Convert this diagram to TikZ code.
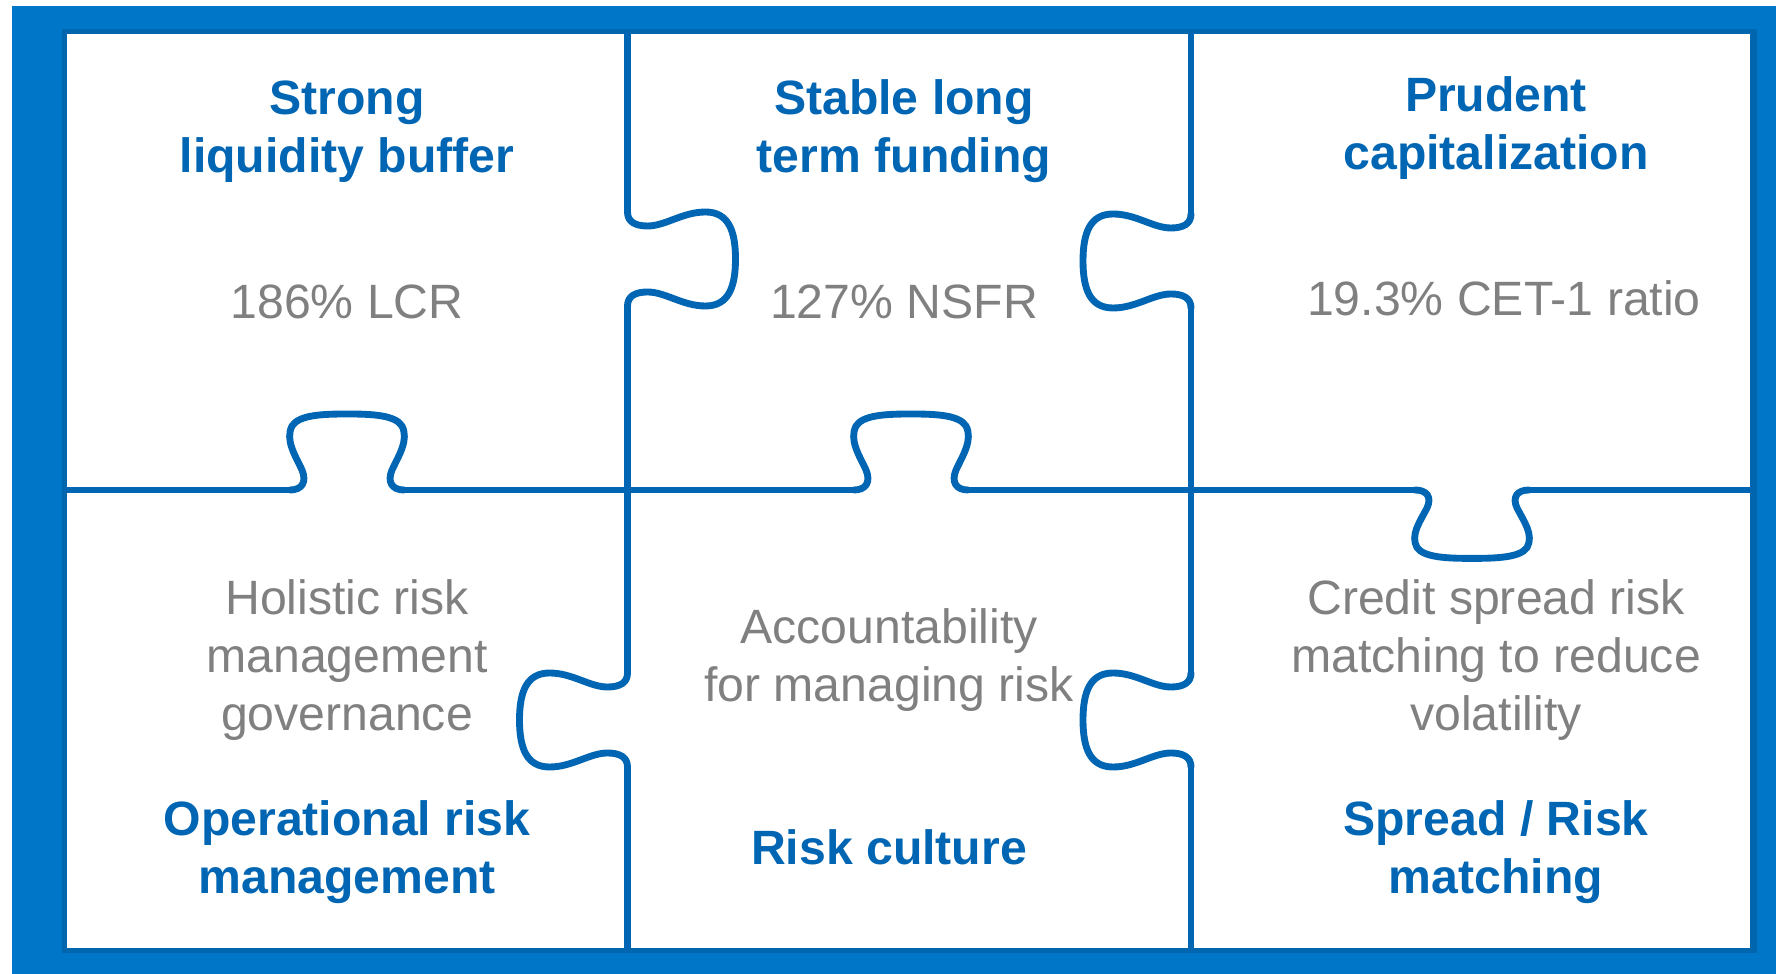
\documentclass[tikz,border=0pt]{standalone}
\usepackage{fontspec}
\setmainfont{Liberation Sans}
\definecolor{bandblue}{RGB}{0,118,200}
\definecolor{shadeblue}{RGB}{0,103,174}
\definecolor{lineblue}{RGB}{0,102,179}
\definecolor{notegrey}{RGB}{128,128,128}
\tikzset{
  puzzleline/.style={lineblue,line width=1.95pt,line cap=round,line join=round},
  headtext/.style={lineblue,font=\fontsize{13.7}{16.5}\selectfont\bfseries,align=center,anchor=base,inner sep=0pt},
  notetext/.style={notegrey,font=\fontsize{13.7}{16.5}\selectfont,align=center,anchor=base,inner sep=0pt},
  sideknob/.pic={\draw[puzzleline] (0,-47) .. controls (0,-37) and (8,-33) .. (20,-33) .. controls (38,-33) and (55,-47) .. (78,-47) .. controls (101,-47) and (108,-28) .. (108,0) .. controls (108,28) and (101,47) .. (78,47) .. controls (55,47) and (38,33) .. (20,33) .. controls (8,33) and (0,37) .. (0,47);},
  upknob/.pic={\draw[puzzleline] (-57,0) .. controls (-45,0) and (-40,-8) .. (-45,-20) .. controls (-52,-35) and (-62,-50) .. (-55,-64) .. controls (-48,-75) and (-25,-76) .. (0,-76) .. controls (25,-76) and (48,-75) .. (55,-64) .. controls (62,-50) and (52,-35) .. (45,-20) .. controls (40,-8) and (45,0) .. (57,0);}
}
\begin{document}
\begin{tikzpicture}[x=0.01cm,y=-0.01cm]
\useasboundingbox (0,0) rectangle (1776,974);
\fill[bandblue] (12,6) rectangle (1776,974);
\fill[shadeblue] (62,29) rectangle (1757,953);
\fill[white] (67,34) rectangle (1750,948);

\draw[puzzleline] (627.5,34) -- (627.5,212) (627.5,306) -- (627.5,673) (627.5,767) -- (627.5,948);
\draw[puzzleline] (1191,34) -- (1191,214) (1191,308) -- (1191,673) (1191,767) -- (1191,948);
\draw[puzzleline] (67,490) -- (290,490) (404,490) -- (854,490) (968,490) -- (1415,490) (1529,490) -- (1750,490);
\pic at (627.5,259) {sideknob};
\pic[xscale=-1] at (1191,261) {sideknob};
\pic[xscale=-1] at (627.5,720) {sideknob};
\pic[xscale=-1] at (1191,720) {sideknob};
\pic at (347,490) {upknob};
\pic at (911,490) {upknob};
\pic[yscale=-0.9] at (1472,490) {upknob};

\node[headtext] (buffer) at (347,173) {Strong\\liquidity buffer};
\node[headtext] (funding) at (904,173) {Stable long\\term funding};
\node[headtext] (capital) at (1496,170) {Prudent\\capitalization};
\node[notetext] (lcr) at (347,319) {186\% LCR};
\node[notetext] (nsfr) at (904,319) {127\% NSFR};
\node[notetext] (cet) at (1504,316) {19.3\% CET-1 ratio};

\node[notetext] (holistic) at (347,731) {Holistic risk\\management\\governance};
\node[notetext] (account) at (889,702) {Accountability\\for managing risk};
\node[notetext] (credit) at (1496,731) {Credit spread risk\\matching to reduce\\volatility};
\node[headtext] (oprisk) at (347,894) {Operational risk\\management};
\node[headtext] (culture) at (889,865) {Risk culture};
\node[headtext] (spread) at (1496,894) {Spread / Risk\\matching};
\end{tikzpicture}
\end{document}
